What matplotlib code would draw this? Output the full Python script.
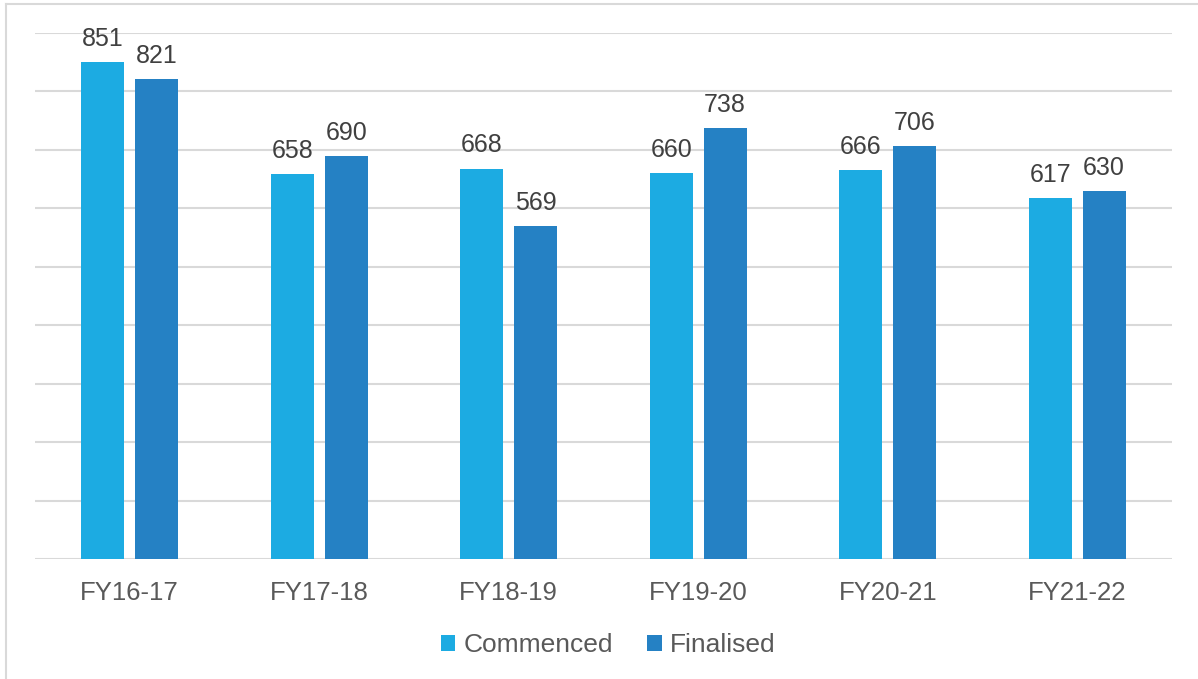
import matplotlib.pyplot as plt
import matplotlib.lines as mlines
import numpy as np

plt.rcParams['font.family'] = ['Liberation Sans', 'DejaVu Sans']

years = ['FY16-17', 'FY17-18', 'FY18-19', 'FY19-20', 'FY20-21', 'FY21-22']
commenced = [851, 658, 668, 660, 666, 617]
finalised = [821, 690, 569, 738, 706, 630]

c_col = '#1CABE2'
f_col = '#2581C4'

fig = plt.figure(figsize=(11.98, 6.79), dpi=100)
ax = fig.add_axes([35/1198, 1-559/679, 1137/1198, 526/679])

x = np.arange(len(years))
w = 0.227
off = 0.142
b1 = ax.bar(x-off, commenced, w, color=c_col, label='Commenced', zorder=3)
b2 = ax.bar(x+off, finalised, w, color=f_col, label='Finalised', zorder=3)

# data labels
for bars, vals in [(b1, commenced), (b2, finalised)]:
    for r, v in zip(bars, vals):
        ax.annotate(str(v), (r.get_x()+r.get_width()/2, v), xytext=(0, 8),
                    textcoords='offset points', ha='center', va='bottom',
                    fontsize=18, color='#404040')

ax.set_xlim(-0.5, len(years)-0.5)
ax.set_ylim(0, 900)
ax.set_yticks(np.arange(0, 901, 100))
ax.yaxis.grid(True, color='#D9D9D9', linewidth=1.5, zorder=0)
ax.tick_params(axis='y', left=False, labelleft=False)
ax.tick_params(axis='x', bottom=False, labelsize=18.5, labelcolor='#595959', pad=12)
ax.set_xticks(x)
ax.set_xticklabels(years)
for s in ax.spines.values():
    s.set_visible(False)

ax.legend(loc='center', bbox_to_anchor=(608/1198, 1-645/679), bbox_transform=fig.transFigure,
          ncol=2, frameon=False, fontsize=19, labelcolor='#595959',
          handlelength=0.55, handleheight=0.55, handletextpad=0.3, columnspacing=1.3)

# outer chart frame (left and top edges)
fig.add_artist(mlines.Line2D([6/1198, 6/1198], [0, 1-4/679], transform=fig.transFigure,
                             color='#D9D9D9', linewidth=1.5))
fig.add_artist(mlines.Line2D([6/1198, 1], [1-4/679, 1-4/679], transform=fig.transFigure,
                             color='#D9D9D9', linewidth=1.5))

plt.savefig('out.png', dpi=100)
plt.close()
